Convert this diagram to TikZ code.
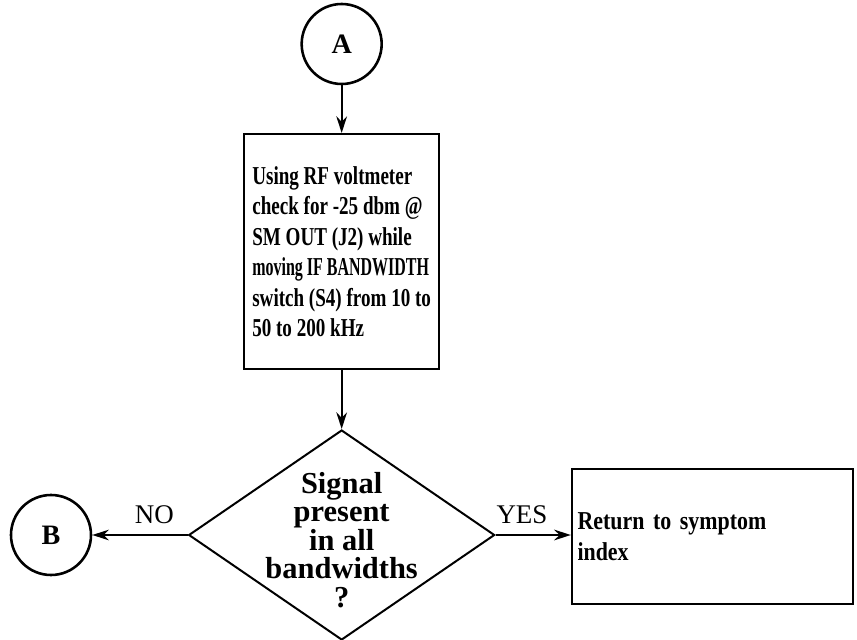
\documentclass[tikz,border=0pt]{standalone}
\usepackage{fontspec}
\setmainfont{Liberation Serif}
\newfontfamily\boxfont[FakeStretch=0.74]{Liberation Serif}
\newfontfamily\tightfont[FakeStretch=0.62]{Liberation Serif}
\newfontfamily\retfont[FakeStretch=0.85]{Liberation Serif}
\usepackage{tikz}
\usetikzlibrary{positioning, arrows.meta, shapes.geometric}
\tikzset{
    % Flow chart styles
    connector/.style={circle, draw, line width=2.2pt, minimum size=2.4cm, inner sep=0pt,
                      font=\fontsize{24}{26}\selectfont\bfseries},
    step box/.style={rectangle, draw, line width=2pt, align=left, inner sep=2pt},
    decision/.style={diamond, draw, line width=1.7pt, inner sep=0pt, shape aspect=1.457,
                     minimum width=9.18cm, minimum height=6.3cm},
    arrow/.style={-{Stealth[length=5mm, width=3.2mm]}, line width=1.8pt},
}

\begin{document}
\begin{tikzpicture}[
    font=\fontsize{19}{24.6}\selectfont\bfseries,
    lbl/.style={font=\fontsize{23}{26}\selectfont},
]
    \useasboundingbox (0,0) rectangle (25.71,-19.2);

    % Entry connector
    \node[connector] (a) at (10.25,-1.32) {A};

    % Measurement step
    \node[step box, minimum width=5.85cm, minimum height=7.05cm,
          font=\boxfont\fontsize{22}{26}\selectfont\bfseries]
        (check) at (10.25,-7.55)
        {Using RF voltmeter\\check for -25 dbm @\\SM OUT (J2) while\\{\tightfont moving IF BANDWIDTH}\\switch (S4) from 10 to\\50 to 200 kHz};
    \draw[arrow] (a) -- (check);

    % Decision
    \node[decision] (sig) at (10.25,-16.05) {};
    \node[align=center, font=\fontsize{26}{24.3}\selectfont\bfseries] (sig text)
        at ([yshift=-0.15cm]sig.center) {Signal\\present\\in all\\bandwidths\\?};
    \draw[arrow] (check) -- (sig);

    % Exits
    \node[connector] (b) at (1.53,-16.05) {B};
    \node[step box, minimum width=8.43cm, minimum height=4.05cm, text width=8.1cm,
          font=\retfont\fontsize{22}{26}\selectfont\bfseries]
        (ret) at (21.375,-16.1) {Return to symptom\\index};
    \draw[arrow] (sig) -- (b) node[lbl, pos=0.35, above=5pt] {NO};
    \draw[arrow] (sig.east) -- (sig.east -| ret.west) node[lbl, pos=0.35, above=5pt] {YES};
\end{tikzpicture}
\end{document}
